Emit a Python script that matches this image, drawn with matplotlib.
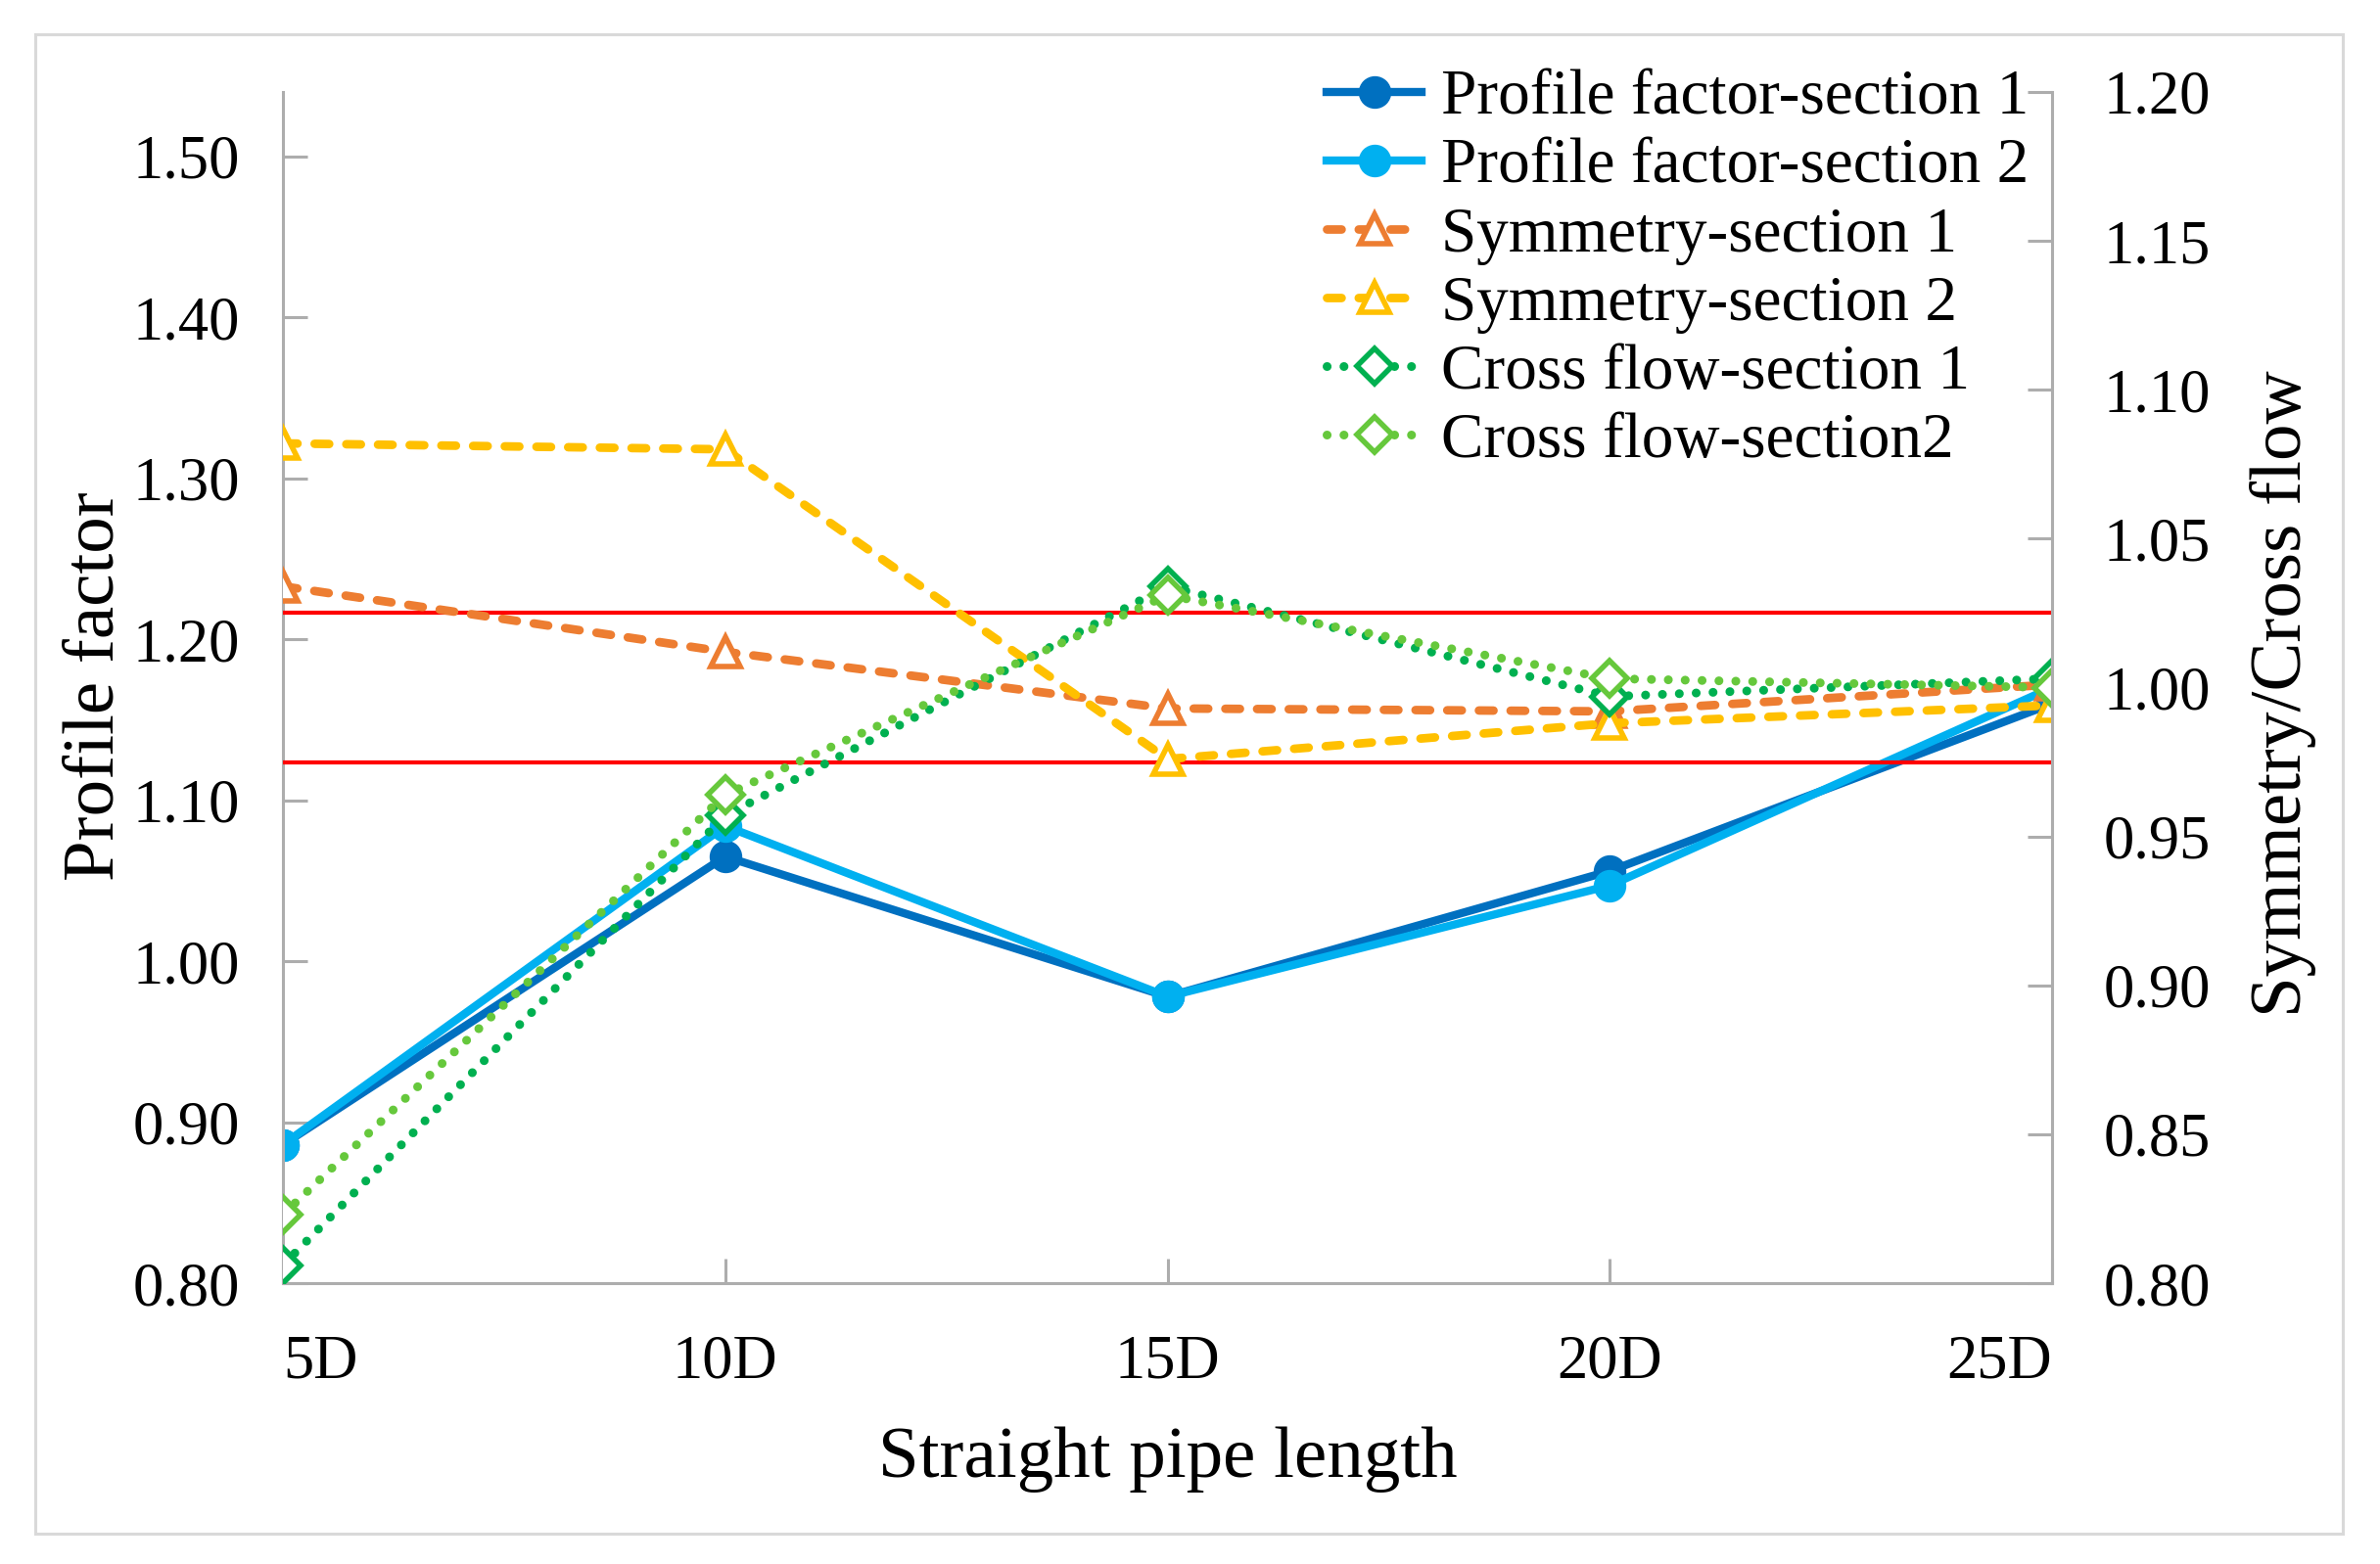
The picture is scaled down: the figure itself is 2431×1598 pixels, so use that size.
import matplotlib
matplotlib.use("Agg")
import matplotlib.pyplot as plt
from matplotlib.patches import Rectangle

plt.rcParams['font.family'] = ['Liberation Serif', 'DejaVu Serif']

# data
lengths = ["5D", "10D", "15D", "20D", "25D"]
profile_s1 = [0.886, 1.065, 0.978, 1.056, 1.160]
profile_s2 = [0.886, 1.084, 0.978, 1.047, 1.170]
symmetry_s1 = [1.034, 1.012, 0.993, 0.992, 1.001]
symmetry_s2 = [1.082, 1.080, 0.976, 0.988, 0.994]
crossflow_s1 = [0.806, 0.957, 1.034, 0.997, 1.003]
crossflow_s2 = [0.823, 0.964, 1.031, 1.003, 1.000]
limits = [1.025, 0.975]

FS = 45
GRAY = '#ADADAD'

fig = plt.figure(figsize=(24.31, 15.98), dpi=100)
ax = fig.add_axes([289 / 2431, 1 - 1311 / 1598, (2096 - 289) / 2431, (1311 - 94) / 1598])
ax2 = ax.twinx()

x = list(range(len(lengths)))

ax.plot(x, profile_s1, color='#0070C0', lw=6, marker='o', ms=23,
        label='Profile factor-section 1')
ax.plot(x, profile_s2, color='#00B0F0', lw=6, marker='o', ms=23,
        label='Profile factor-section 2')

dash = dict(lw=6.3, dashes=(1.7, 2.0), dash_capstyle='round', marker='^',
            ms=22, mfc='white', mew=4)
ax2.plot(x, symmetry_s1, color='#ED7D31', label='Symmetry-section 1', **dash)
ax2.plot(x, symmetry_s2, color='#FFC000', label='Symmetry-section 2', **dash)

dots = dict(lw=6.5, dashes=(0.01, 1.9), dash_capstyle='round', marker='D',
            ms=18, mfc='white', mew=4)
ax2.plot(x, crossflow_s1, color='#00B050', label='Cross flow-section 1', **dots)
ax2.plot(x, crossflow_s2, color='#66C83C', label='Cross flow-section2', **dots)

for v in limits:
    ax2.axhline(v, color='#FF0000', lw=3, zorder=1)

ax.set_xlim(0, 4)
ax.set_ylim(0.8, 1.54)
ax2.set_ylim(0.8, 1.2)
ax.set_yticks([0.8, 0.9, 1.0, 1.1, 1.2, 1.3, 1.4, 1.5])
ax.set_yticklabels([f"{v:.2f}" for v in ax.get_yticks()])
ax2.set_yticks([0.8, 0.85, 0.9, 0.95, 1.0, 1.05, 1.1, 1.15, 1.2])
ax2.set_yticklabels([f"{v:.2f}" for v in ax2.get_yticks()])
ax.set_xticks(x)
ax.set_xticklabels(lengths)
xl = ax.get_xticklabels()
xl[0].set_ha('left')
xl[-1].set_ha('right')

for a in (ax, ax2):
    for s in a.spines.values():
        s.set_color(GRAY)
        s.set_linewidth(2.2)
    a.spines['top'].set_visible(False)
ax.spines['right'].set_visible(False)
ax2.spines['left'].set_visible(False)
ax2.spines['bottom'].set_visible(False)

ax.tick_params(axis='y', direction='in', length=18, width=2.2, color=GRAY,
               labelsize=FS, pad=32)
ax.tick_params(axis='x', direction='in', length=18, width=2.2, color=GRAY,
               labelsize=FS, pad=38)
ax2.tick_params(axis='y', direction='in', length=18, width=2.2, color=GRAY,
                labelsize=FS, pad=38)

fig.text(98 / 2431, 1 - 701 / 1598, 'Profile factor', rotation=90,
         ha='center', va='center', fontsize=54)
fig.text(2332 / 2431, 1 - 709 / 1598, 'Symmetry/Cross flow', rotation=90,
         ha='center', va='center', fontsize=54)
fig.text(1193 / 2431, 1 - 1491 / 1598, 'Straight pipe length',
         ha='center', va='center', fontsize=54)

h1, l1 = ax.get_legend_handles_labels()
h2, l2 = ax2.get_legend_handles_labels()
ax2.legend(h1 + h2, l1 + l2, loc='upper left', frameon=False, fontsize=47,
           bbox_to_anchor=(1355 / 2431, 0.9556), bbox_transform=fig.transFigure,
           borderpad=0, borderaxespad=0, handlelength=1.49, handletextpad=0.3,
           labelspacing=0.16)

fig.patches.append(Rectangle((36 / 2431, 1 - 1567 / 1598), (2393 - 36) / 2431,
                             (1567 - 35) / 1598, transform=fig.transFigure,
                             fill=False, edgecolor='#D9D9D9', lw=2.2))

fig.savefig('out.png', dpi=100)
